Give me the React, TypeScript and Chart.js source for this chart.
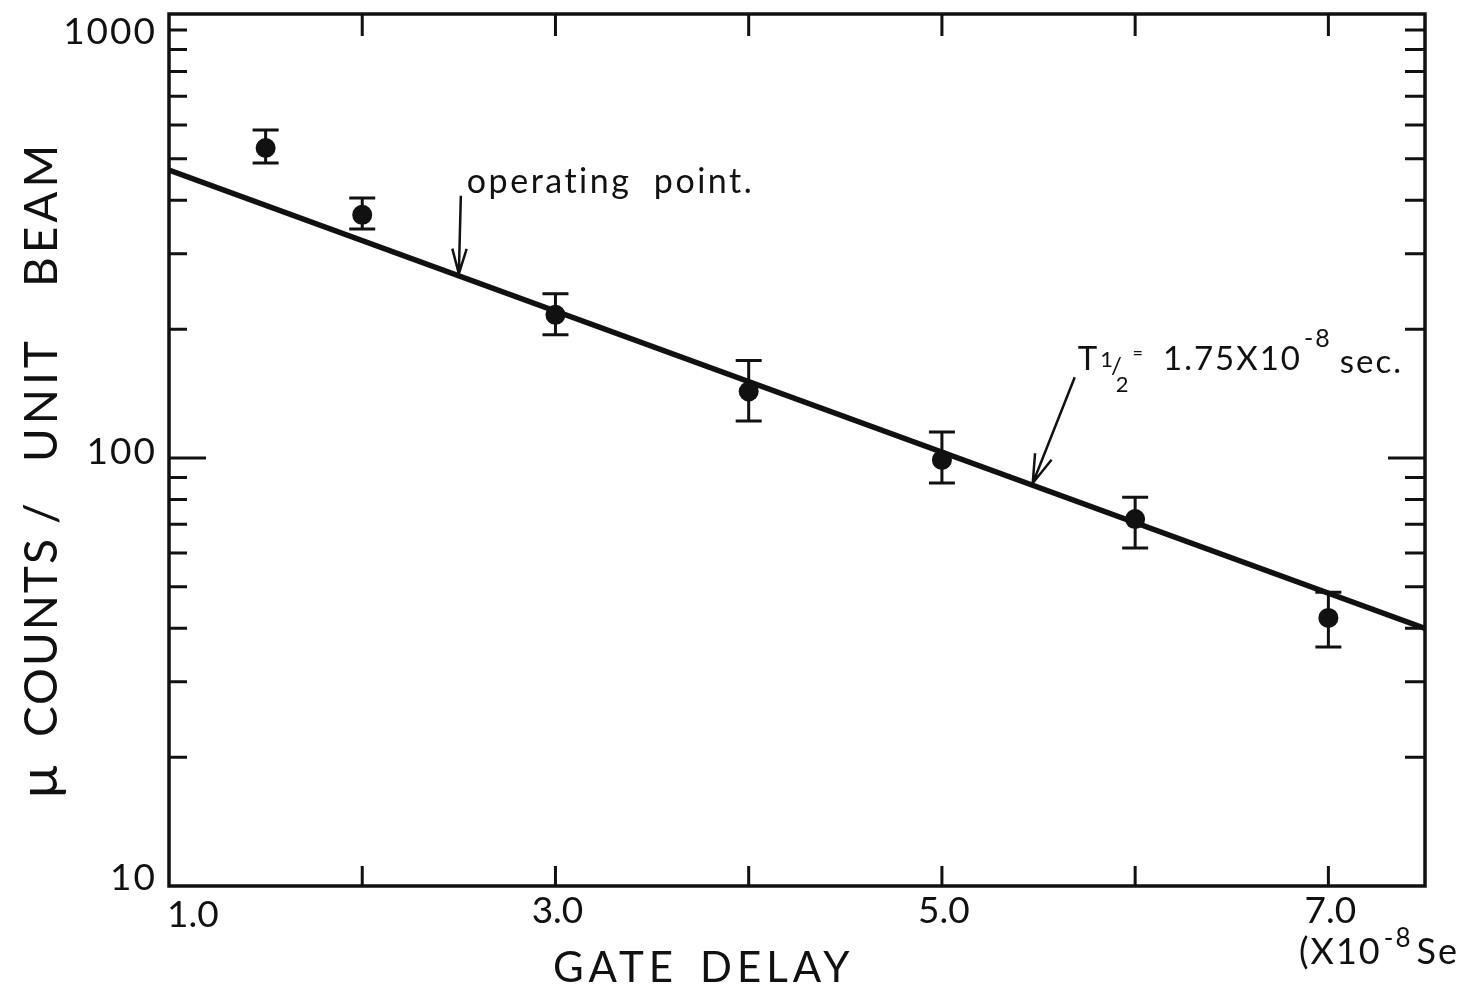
import React, { useEffect, useRef } from "react";
import { Chart, registerables } from "chart.js";

Chart.register(...registerables);

// ---- data ----
const gateDelay = [1.5, 2.0, 3.0, 4.0, 5.0, 6.0, 7.0];
const counts = [530, 370, 216, 143, 99, 72, 42.3];
const countsHigh = [584, 405, 242, 169, 115, 81, 48.6];
const countsLow = [489, 343, 194, 122, 87.4, 61.6, 36.2];

const fitX = [1.0, 7.5];
const fitY = [471, 40];

const xTickValues = [1, 2, 3, 4, 5, 6, 7];
const xTickLabels = ["1.0", "", "3.0", "", "5.0", "", "7.0"];
const yMajorValues = [10, 100, 1000];
const yMajorLabels = ["10", "100", "1000"];
const yMinorValues = [20, 30, 40, 50, 60, 70, 80, 90, 200, 300, 400, 500, 600, 700, 800, 900];

const operatingPoint = 2.5;
const halfLifePoint = 5.47;

const INK = "#111111";
const FONT = "Lato, 'DejaVu Sans', sans-serif";

type Seg = { t: string; size: number; dy?: number; dx?: number };

function drawRich(ctx: CanvasRenderingContext2D, segs: Seg[], x: number, y: number, spacing = 0) {
  let cx = x;
  ctx.textAlign = "left";
  ctx.textBaseline = "alphabetic";
  (ctx as any).letterSpacing = spacing + "px";
  for (const s of segs) {
    ctx.font = `${s.size}px ${FONT}`;
    cx += s.dx || 0;
    ctx.fillText(s.t, cx, y + (s.dy || 0));
    cx += ctx.measureText(s.t).width;
  }
  (ctx as any).letterSpacing = "0px";
}

function arrow(ctx: CanvasRenderingContext2D, x1: number, y1: number, x2: number, y2: number, head = 28, spread = 0.3) {
  const ang = Math.atan2(y2 - y1, x2 - x1);
  ctx.beginPath();
  ctx.moveTo(x1, y1);
  ctx.lineTo(x2, y2);
  ctx.moveTo(x2 - head * Math.cos(ang - spread), y2 - head * Math.sin(ang - spread));
  ctx.lineTo(x2, y2);
  ctx.lineTo(x2 - head * Math.cos(ang + spread), y2 - head * Math.sin(ang + spread));
  ctx.stroke();
}

function fitAt(x: number) {
  const l0 = Math.log10(fitY[0]);
  const l1 = Math.log10(fitY[1]);
  const t = (x - fitX[0]) / (fitX[1] - fitX[0]);
  return Math.pow(10, l0 + (l1 - l0) * t);
}

const decor = {
  id: "paperDecor",
  beforeDatasetsDraw(chart: any) {
    const { ctx, scales } = chart;
    const xs = scales.x;
    const ys = scales.y;
    ctx.save();
    ctx.strokeStyle = INK;
    ctx.lineWidth = 3;
    gateDelay.forEach((g, i) => {
      const px = xs.getPixelForValue(g);
      const top = ys.getPixelForValue(countsHigh[i]);
      const bot = ys.getPixelForValue(countsLow[i]);
      ctx.beginPath();
      ctx.moveTo(px, top);
      ctx.lineTo(px, bot);
      ctx.moveTo(px - 13, top);
      ctx.lineTo(px + 13, top);
      ctx.moveTo(px - 13, bot);
      ctx.lineTo(px + 13, bot);
      ctx.stroke();
    });
    ctx.restore();
  },
  afterDatasetsDraw(chart: any) {
    const { ctx, chartArea: a, scales } = chart;
    const xs = scales.x;
    const ys = scales.y;
    ctx.save();
    ctx.strokeStyle = INK;
    ctx.fillStyle = INK;
    ctx.lineCap = "butt";

    // frame
    ctx.lineWidth = 3.5;
    ctx.strokeRect(a.left, a.top, a.right - a.left, a.bottom - a.top);

    // x ticks (inward, top and bottom)
    ctx.lineWidth = 3;
    xTickValues.forEach((v) => {
      const px = xs.getPixelForValue(v);
      if (px <= a.left + 2) return;
      ctx.beginPath();
      ctx.moveTo(px, a.top);
      ctx.lineTo(px, a.top + 22);
      ctx.moveTo(px, a.bottom);
      ctx.lineTo(px, a.bottom - 20);
      ctx.stroke();
    });

    // y ticks (inward, left and right)
    yMinorValues.forEach((v) => {
      const py = ys.getPixelForValue(v);
      ctx.beginPath();
      ctx.moveTo(a.left, py);
      ctx.lineTo(a.left + 18, py);
      ctx.moveTo(a.right, py);
      ctx.lineTo(a.right - 20, py);
      ctx.stroke();
    });
    yMajorValues.forEach((v) => {
      const py = ys.getPixelForValue(v);
      if (py >= a.bottom - 2) return;
      const len = v === 100 ? 37 : 18;
      ctx.beginPath();
      ctx.moveTo(a.left, py);
      ctx.lineTo(a.left + len, py);
      ctx.moveTo(a.right, py);
      ctx.lineTo(a.right - (v === 100 ? 37 : 20), py);
      ctx.stroke();
    });

    // x tick labels
    ctx.font = `37px ${FONT}`;
    ctx.textBaseline = "alphabetic";
    xTickValues.forEach((v, i) => {
      const lab = xTickLabels[i];
      if (!lab) return;
      const px = xs.getPixelForValue(v);
      if (i === 0) {
        ctx.textAlign = "left";
        ctx.fillText(lab, px - 2, a.bottom + 41);
      } else {
        ctx.textAlign = "center";
        ctx.fillText(lab, px + 2, a.bottom + 37);
      }
    });

    // y tick labels
    ctx.textAlign = "right";
    ctx.textBaseline = "middle";
    ctx.font = `37px ${FONT}`;
    (ctx as any).letterSpacing = "2px";
    yMajorValues.forEach((v, i) => {
      const py = ys.getPixelForValue(v);
      const dy = v === 10 ? -8 : v === 1000 ? 2 : -6;
      ctx.fillText(yMajorLabels[i], a.left - 12, py + dy);
    });
    (ctx as any).letterSpacing = "0px";

    // unit note under the x axis
    drawRich(ctx, [
      { t: "(X10", size: 36 },
      { t: "-8", size: 26, dy: -17, dx: 2 },
      { t: "Sec)", size: 36, dx: 4 },
    ], 1299, 964, 2);

    // axis titles
    ctx.font = `42px ${FONT}`;
    ctx.textAlign = "left";
    ctx.textBaseline = "alphabetic";
    (ctx as any).letterSpacing = "5px";
    ctx.fillText("GATE", 553, 982);
    ctx.fillText("DELAY", 700, 982);

    ctx.save();
    ctx.translate(57, 0);
    ctx.rotate(-Math.PI / 2);
    const words: [string, number, number, number][] = [
      ["\u03bc", 798, 54, 0],
      ["COUNTS", 737, 46, 2],
      ["/", 524, 46, 4],
      ["UNIT", 462, 46, 4],
      ["BEAM", 287, 46, 4],
    ];
    words.forEach(([w, yStart, size, sp]) => {
      ctx.font = `${size}px ${FONT}`;
      (ctx as any).letterSpacing = sp + "px";
      ctx.fillText(w, -yStart, 0);
    });
    ctx.restore();
    (ctx as any).letterSpacing = "0px";

    // operating point annotation
    ctx.lineWidth = 2.5;
    const opX = xs.getPixelForValue(operatingPoint);
    const opY = ys.getPixelForValue(fitAt(operatingPoint));
    arrow(ctx, opX + 2, opY - 80, opX, opY - 2, 26, 0.28);
    ctx.fillStyle = INK;
    drawRich(ctx, [{ t: "operating", size: 34 }, { t: "  point.", size: 34 }], opX + 8, opY - 83, 2.5);

    // half-life annotation
    const hlX = xs.getPixelForValue(halfLifePoint);
    const hlY = ys.getPixelForValue(fitAt(halfLifePoint));
    arrow(ctx, hlX + 42, hlY - 108, hlX, hlY - 2, 30, 0.3);
    const tx = hlX + 45;
    const ty = hlY - 115;
    drawRich(ctx, [
      { t: "T", size: 33 },
      { t: "1", size: 22, dy: -3, dx: 1 },
      { t: "/", size: 24, dy: 4, dx: -4 },
      { t: "2", size: 22, dy: 22, dx: -8 },
      { t: "=", size: 18, dy: -11, dx: 2 },
      { t: "1.75X10", size: 33, dx: 18 },
      { t: "-8", size: 25, dy: -23, dx: 2 },
      { t: "sec.", size: 33, dx: 8, dy: 3 },
    ], tx, ty, 2);

    ctx.restore();
  },
};

export default function App() {
  const ref = useRef<HTMLCanvasElement | null>(null);

  useEffect(() => {
    if (!ref.current) return;
    const chart = new Chart(ref.current, {
      type: "scatter",
      data: {
        datasets: [
          {
            label: "measured",
            data: gateDelay.map((x, i) => ({ x, y: counts[i] })),
            pointRadius: 10,
            pointBackgroundColor: INK,
            pointBorderColor: INK,
            pointBorderWidth: 0,
            showLine: false,
            order: 0,
          },
          {
            label: "fit",
            data: fitX.map((x, i) => ({ x, y: fitY[i] })),
            showLine: true,
            borderColor: INK,
            borderWidth: 5.5,
            pointRadius: 0,
            order: 1,
          },
        ],
      },
      options: {
        responsive: false,
        animation: false,
        events: [],
        layout: { padding: { left: 169, right: 35, top: 14, bottom: 108 } },
        plugins: { legend: { display: false }, tooltip: { enabled: false } },
        scales: {
          x: { type: "linear", min: 1, max: 7.5, display: false },
          y: { type: "logarithmic", min: 10, max: 1090, display: false },
        },
      },
      plugins: [decor],
    });
    return () => chart.destroy();
  }, []);

  return (
    <div style={{ position: "fixed", left: 0, top: 0, width: 1460, height: 994, background: "#fff" }}>
      <canvas ref={ref} width={1460} height={994} style={{ display: "block" }} />
    </div>
  );
}
